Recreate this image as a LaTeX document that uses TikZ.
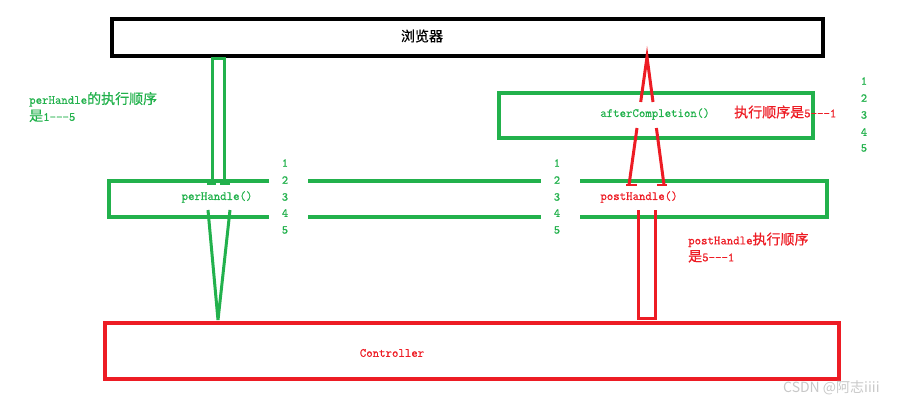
\documentclass[tikz,border=0pt]{standalone}
\usepackage{fontspec}
\newfontfamily\cjk[FakeBold=0.6]{Noto Sans CJK SC}
\newfontfamily\wmfont{Noto Sans CJK SC}
\newfontfamily\mono[FakeBold=0.8]{Latin Modern Mono}
\newcommand\zh[1]{{\cjk\fontsize{14}{17}\selectfont #1}}
\definecolor{pgreen}{RGB}{34,177,76}
\definecolor{pred}{RGB}{237,28,36}
\definecolor{wmgray}{RGB}{200,200,200}
\tikzset{
  boxk/.style={draw=black,line width=3.5pt,inner sep=0pt},
  boxg/.style={draw=pgreen,line width=3.5pt,inner sep=0pt},
  boxr/.style={draw=pred,line width=3.5pt,inner sep=0pt},
  txt/.style={inner sep=0pt,font=\mono\fontsize{12.5}{17}\selectfont},
  gtxt/.style={txt,text=pgreen},
  rtxt/.style={txt,text=pred},
  num/.style={txt,text=pgreen,font=\mono\fontsize{12}{14}\selectfont},
  gline/.style={draw=pgreen,line width=3pt},
  rline/.style={draw=pred,line width=3pt},
  gfoot/.style={draw=pgreen,line width=2pt},
  rfoot/.style={draw=pred,line width=2pt},
}
\begin{document}
\begin{tikzpicture}[x=1pt,y=-1pt]
\useasboundingbox (0,0) rectangle (898,404);
% boxes
\node[boxk,minimum width=711pt,minimum height=37pt] (browser) at (467.5,37.5) {};
\node[boxg,minimum width=314pt,minimum height=45pt] (after) at (656,115.5) {};
\node[boxr,minimum width=734pt,minimum height=56pt] (ctrl) at (472,351) {};
% chain box with gaps
\coordinate (c1) at (109,181);
\coordinate (c2) at (827,217);
\draw[gline,line width=3.5pt] (269,181) -- (c1) |- (269,217);
\draw[gline,line width=3.5pt] (308,181) -- (541,181);
\draw[gline,line width=3.5pt] (308,217) -- (541,217);
\draw[gline,line width=3.5pt] (580,181) -| (c2) -- (580,217);
% texts
\node[txt] (tb) at (422,36) {\zh{浏览器}};
\node[gtxt] (ph) at (217,197) {perHandle()};
\node[rtxt] (poh) at (639,197) {postHandle()};
\node[gtxt] (ac) at (655,114) {afterCompletion()};
\node[rtxt,anchor=west] (ord3) at (734,112) {\zh{执行顺序是}5---1};
\node[gtxt,anchor=west,align=left] (ord1) at (29,107) {perHandle\zh{的执行顺序}\\\zh{是}1---5};
\node[rtxt,anchor=west,align=left] (ord2) at (688,247.5) {postHandle\zh{执行顺序}\\\zh{是}5---1};
\node[rtxt] (ct) at (392,353) {Controller};
% numbers
\foreach \i/\y in {1/163,2/180,3/197,4/213,5/230}{
  \node[num] (na\i) at (285,\y) {\i};
  \node[num] (nb\i) at (557,\y) {\i};
}
\foreach \i/\y in {1/81,2/98,3/115,4/132,5/148}{
  \node[num] (nc\i) at (864,\y) {\i};
}
% green connector browser -> perHandle
\coordinate (g1) at (212,184);
\coordinate (g2) at (224,184);
\draw[gline] (g1) -- (212,58.5) -- (224,58.5) -- (g2);
\draw[gfoot] (207,184) -- (216,184);
\draw[gfoot] (220,184) -- (230,184);
% green V perHandle -> controller
\coordinate (gv1) at (208,210);
\coordinate (gv2) at (230,210);
\coordinate (gva) at (218,320);
\draw[gline,line join=miter] (gv1) -- (gva) -- (gv2);
% red connector postHandle -> controller
\coordinate (r1) at (638,210);
\coordinate (r2) at (655,210);
\draw[rline] (r1) -- (638,318.5) -- (655,318.5) -- (r2);
% red inverted V postHandle -> browser
\coordinate (ra) at (647,57);
\draw[rline] (629,185) -- (637,128);
\draw[rline,line join=miter] (640.7,102) -- (ra) -- (653,102);
\draw[rline] (656.4,128) -- (664,185);
\draw[rfoot] (626,185) -- (637,185);
\draw[rfoot] (657,185) -- (667,185);
% watermark
\node[anchor=west,inner sep=0pt,text=wmgray,font=\wmfont\fontsize{14}{16}\selectfont] (wm) at (783,388) {CSDN @阿志iiii};
\end{tikzpicture}
\end{document}
